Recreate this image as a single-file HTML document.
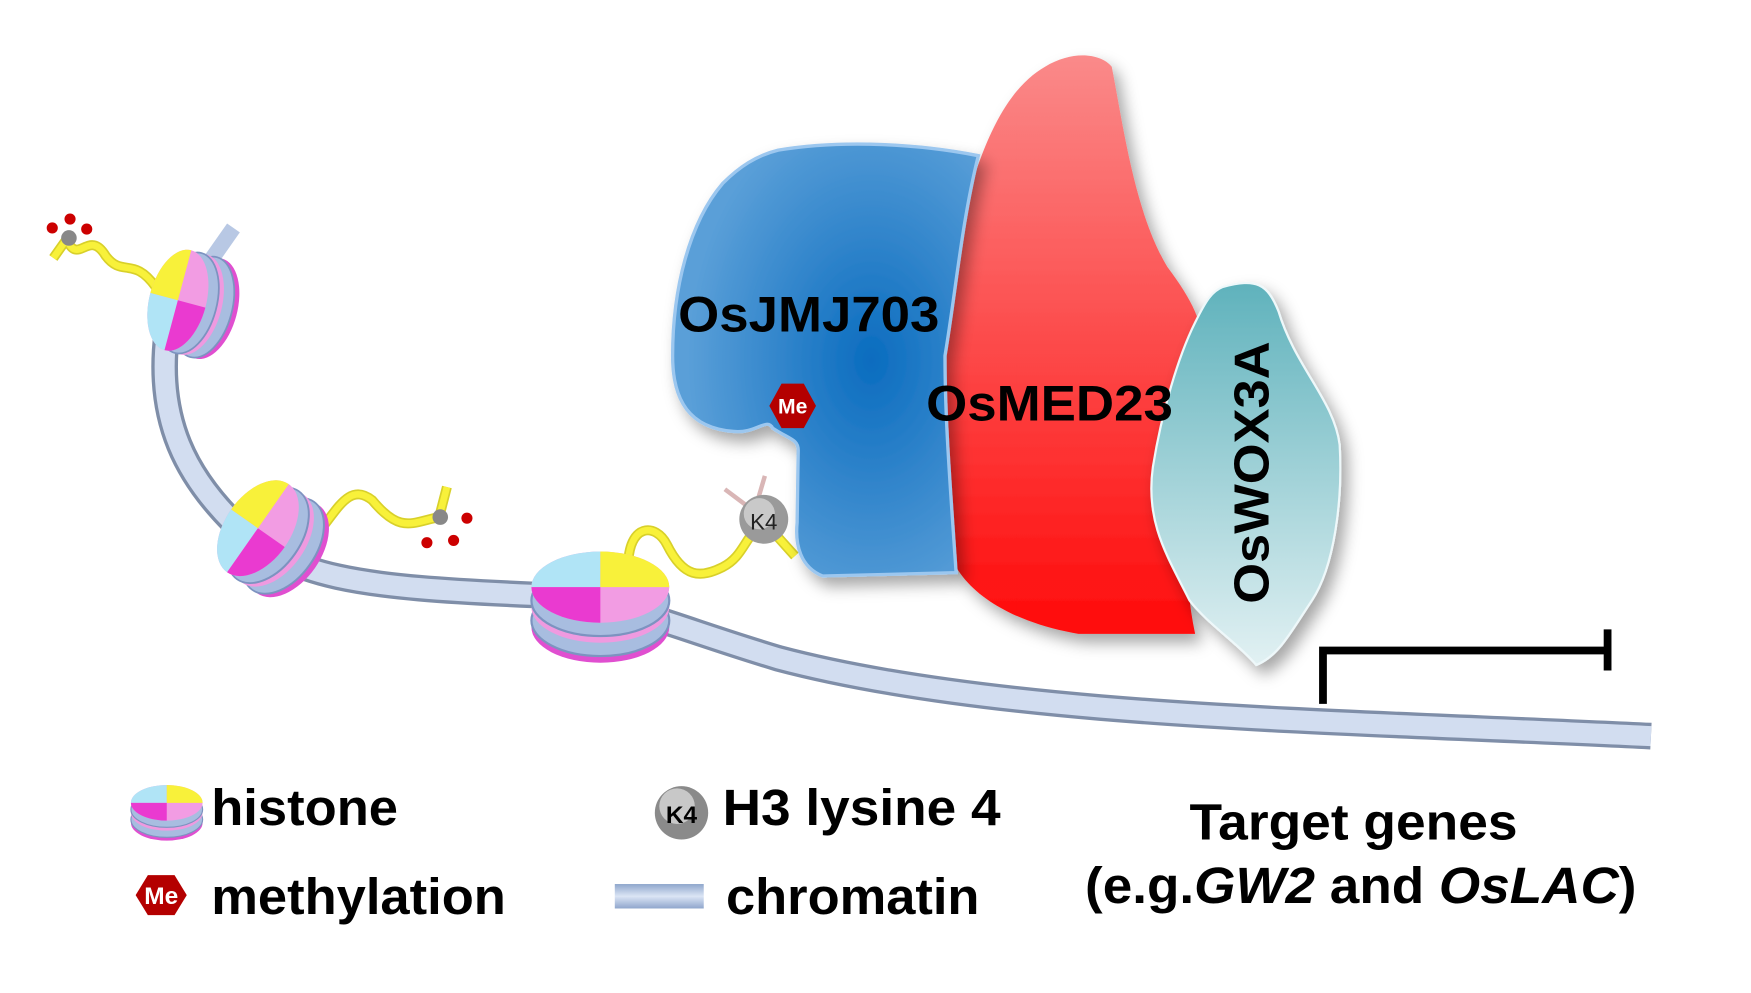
<!DOCTYPE html>
<html><head><meta charset="utf-8"><style>
html,body{margin:0;padding:0;background:#fff;width:1751px;height:993px;overflow:hidden}
svg{display:block}
text{font-family:"Liberation Sans",Arial,sans-serif;font-weight:bold;fill:#000}
</style></head><body>
<svg width="1751" height="993" viewBox="0 0 1575 893" preserveAspectRatio="none" xmlns="http://www.w3.org/2000/svg">
<defs>
<radialGradient id="blue" cx="0.65" cy="0.5" r="0.6"><stop offset="0" stop-color="#0a6cbf"/><stop offset="1" stop-color="#5a9fd8"/></radialGradient>
<linearGradient id="red" x1="0" y1="0" x2="0" y2="1"><stop offset="0" stop-color="#fa8a8a"/><stop offset="1" stop-color="#ff0a0a"/></linearGradient>
<linearGradient id="teal" x1="0" y1="0" x2="0" y2="1"><stop offset="0" stop-color="#5fb2bc"/><stop offset="1" stop-color="#e2f1f3"/></linearGradient>
<linearGradient id="fib" x1="0" y1="0" x2="0" y2="1"><stop offset="0" stop-color="#8fa6cc"/><stop offset="0.5" stop-color="#dbe5f5"/><stop offset="1" stop-color="#8fa6cc"/></linearGradient>
<filter id="sh" x="-20%" y="-20%" width="140%" height="140%"><feDropShadow dx="6" dy="8" stdDeviation="7" flood-color="#000" flood-opacity="0.35"/></filter>
<g id="nuc">
 <ellipse cx="0" cy="36" rx="62" ry="32" fill="#e04fd0"/>
 <ellipse cx="0" cy="30" rx="62" ry="32" fill="#a8bde0" stroke="#7d93c0" stroke-width="2"/>
 <ellipse cx="0" cy="18" rx="62" ry="32" fill="#ef9ae0"/>
 <ellipse cx="0" cy="12" rx="62" ry="32" fill="#a8bde0" stroke="#7d93c0" stroke-width="2"/>
 <ellipse cx="0" cy="0" rx="62" ry="32" fill="#f29ce3"/>
 <path d="M0 0 L-62 0 A62 32 0 0 1 0 -32 Z" fill="#b0e4f6"/>
 <path d="M0 0 L0 -32 A62 32 0 0 1 62 0 Z" fill="#f8f13a"/>
 <path d="M0 0 L-62 0 A62 32 0 0 0 0 32 Z" fill="#ea3ad0"/>
</g>
</defs>

<!-- chromatin fiber -->
<path d="M150 300 C140 380 170 430 210 470 C260 520 320 528 480 535 C560 540 600 562 700 592 C900 645 1200 648 1485 662" stroke="#7f8ea8" stroke-width="24" fill="none"/>
<path d="M150 300 C140 380 170 430 210 470 C260 520 320 528 480 535 C560 540 600 562 700 592 C900 645 1200 648 1485 662" stroke="#d2ddf0" stroke-width="18" fill="none"/>
<path d="M210 205 L170 262" stroke="#b8c8e4" stroke-width="14" fill="none"/>

<!-- tails -->
<path d="M140 258 C120 230 110 250 95 230 C80 205 70 240 60 215 M60 215 L48 232" stroke="#d8d02a" stroke-width="9" fill="none"/>
<path d="M140 258 C120 230 110 250 95 230 C80 205 70 240 60 215 M60 215 L48 232" stroke="#f8f13a" stroke-width="6" fill="none"/>
<circle cx="62" cy="214" r="7" fill="#888"/>
<circle cx="47" cy="205" r="5" fill="#c00"/><circle cx="63" cy="197" r="5" fill="#c00"/><circle cx="78" cy="206" r="5" fill="#c00"/>

<path d="M275 490 C300 470 310 430 335 450 C360 480 370 470 395 465 L402 438" stroke="#d8d02a" stroke-width="9" fill="none"/>
<path d="M275 490 C300 470 310 430 335 450 C360 480 370 470 395 465 L402 438" stroke="#f8f13a" stroke-width="6" fill="none"/>
<circle cx="396" cy="465" r="7" fill="#888"/>
<circle cx="420" cy="466" r="5" fill="#c00"/><circle cx="384" cy="488" r="5" fill="#c00"/><circle cx="408" cy="486" r="5" fill="#c00"/>

<path d="M565 510 C565 470 590 470 600 490 C615 520 630 520 650 510 C670 500 670 480 688 470 L715 500" stroke="#d8d02a" stroke-width="9" fill="none"/>
<path d="M565 510 C565 470 590 470 600 490 C615 520 630 520 650 510 C670 500 670 480 688 470 L715 500" stroke="#f8f13a" stroke-width="6" fill="none"/>
<path d="M680 455 L688 428 M672 455 L652 440" stroke="#d9b6b6" stroke-width="4"/>

<!-- nucleosomes -->
<g transform="translate(160,270) rotate(-75) scale(0.75,0.8)"><use href="#nuc"/></g>
<g transform="translate(232,475) rotate(-55) scale(0.78,0.92)"><use href="#nuc"/></g>
<g transform="translate(540,528) scale(1,1)"><use href="#nuc"/></g>

<circle cx="687" cy="467" r="22" fill="#9a9a9a"/><circle cx="683" cy="462" r="14" fill="#c9c9c9"/>
<text x="687" y="476" font-size="20" text-anchor="middle" style="font-weight:normal;fill:#222">K4</text>

<!-- proteins -->
<path filter="url(#sh)" d="M1000 60 C1010 110 1020 190 1050 240 C1080 280 1085 300 1080 330 C1070 420 1060 500 1075 570 L970 570 C910 560 855 530 850 480 C845 400 840 300 860 220 C880 130 905 80 940 60 C965 45 990 48 1000 60 Z" fill="url(#red)"/>
<path filter="url(#sh)" d="M700 135 C760 125 830 130 880 140 C865 200 860 260 850 320 C850 380 855 440 860 515 L740 518 C720 510 715 490 717 470 L718 405 C718 395 710 395 695 385 C690 375 680 390 660 388 C620 385 605 360 605 320 C605 260 620 200 650 165 C665 150 680 140 700 135 Z" fill="url(#blue)" stroke="#9cc7ef" stroke-width="3"/>
<path filter="url(#sh)" d="M1100 258 C1130 250 1140 255 1150 280 C1165 330 1200 360 1205 400 C1208 450 1200 510 1180 540 C1160 570 1150 590 1130 598 C1115 580 1085 560 1070 540 C1050 500 1030 470 1037 420 C1045 370 1060 320 1075 290 C1085 270 1090 262 1100 258 Z" fill="url(#teal)" stroke="#eef8fa" stroke-width="2"/>

<polygon points="703,345 723,345 734,365 723,385 703,385 692,365" fill="#b40000"/>
<text x="713" y="372" font-size="19" text-anchor="middle" style="fill:#fff">Me</text>

<text x="610" y="298" font-size="45" textLength="235" lengthAdjust="spacingAndGlyphs">OsJMJ703</text>
<text x="833" y="378" font-size="45" textLength="222" lengthAdjust="spacingAndGlyphs">OsMED23</text>
<text transform="translate(1141,425) rotate(-90)" x="-118" y="0" font-size="44" textLength="236" lengthAdjust="spacingAndGlyphs">OsWOX3A</text>

<!-- gene bar -->
<path d="M1190 633 L1190 585 L1447 585" stroke="#000" stroke-width="7" fill="none"/>
<path d="M1446 566 L1446 603" stroke="#000" stroke-width="7"/>

<!-- legend -->
<g transform="translate(150,722) scale(0.52,0.5)"><use href="#nuc"/></g>
<text x="190" y="742" font-size="46" textLength="168" lengthAdjust="spacingAndGlyphs">histone</text>
<polygon points="133,787 157,787 168,805 157,823 133,823 122,805" fill="#b40000"/>
<text x="145" y="813" font-size="22" text-anchor="middle" style="fill:#fff">Me</text>
<text x="190" y="822" font-size="46" textLength="265" lengthAdjust="spacingAndGlyphs">methylation</text>
<circle cx="613" cy="731" r="24" fill="#8a8a8a"/><circle cx="609" cy="725" r="16" fill="#c8c8c8"/>
<text x="613" y="740" font-size="22" text-anchor="middle">K4</text>
<text x="650" y="742" font-size="46" textLength="250" lengthAdjust="spacingAndGlyphs">H3 lysine 4</text>
<rect x="553" y="795" width="80" height="22" fill="url(#fib)"/>
<text x="653" y="822" font-size="46" textLength="228" lengthAdjust="spacingAndGlyphs">chromatin</text>
<text x="1070" y="755" font-size="46" textLength="295" lengthAdjust="spacingAndGlyphs">Target genes</text>
<text x="976" y="812" font-size="46" textLength="496" lengthAdjust="spacingAndGlyphs">(e.g.<tspan font-style="italic">GW2</tspan> and <tspan font-style="italic">OsLAC</tspan>)</text>
</svg>
</body></html>
